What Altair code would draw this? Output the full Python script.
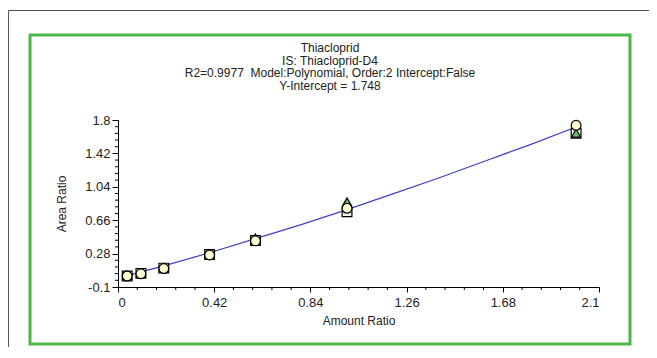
import altair as alt
import pandas as pd

# ---- data ----
amount = [0.04, 0.1, 0.2, 0.4, 0.6, 1.0, 2.0]
area_square = [0.025, 0.055, 0.115, 0.27, 0.43, 0.755, 1.65]
area_triangle = [0.03, 0.06, 0.12, 0.28, 0.46, 0.87, 1.65]
area_circle = [0.025, 0.05, 0.11, 0.265, 0.425, 0.795, 1.74]

fit_x = [0.04, 0.2, 0.4, 0.6, 0.8, 1.0, 1.2, 1.4, 1.6, 1.8, 2.02]
fit_y = [0.03, 0.14, 0.29, 0.45, 0.61, 0.78, 0.96, 1.14, 1.33, 1.52, 1.74]

x_ticks = [0, 0.42, 0.84, 1.26, 1.68, 2.1]
y_ticks = [-0.1, 0.28, 0.66, 1.04, 1.42, 1.8]
x_minor = [0.084, 0.168, 0.252, 0.336, 0.504, 0.588, 0.672, 0.756,
           0.924, 1.008, 1.092, 1.176, 1.344, 1.428, 1.512, 1.596,
           1.764, 1.848, 1.932, 2.016]
y_minor = [-0.024, 0.052, 0.128, 0.204, 0.356, 0.432, 0.508, 0.584,
           0.736, 0.812, 0.888, 0.964, 1.116, 1.192, 1.268, 1.344,
           1.496, 1.572, 1.648, 1.724]

title_lines = ["Thiacloprid", "IS: Thiacloprid-D4",
               "R2=0.9977\u00a0 Model:Polynomial, Order:2 Intercept:False",
               "Y-Intercept = 1.748"]

FONT = "Liberation Sans"
W, H = 481, 167

xs = alt.Scale(domain=[0, 2.1], nice=False, zero=False)
ys = alt.Scale(domain=[-0.1, 1.8], nice=False, zero=False)
x_axis = alt.Axis(values=x_ticks, title="Amount Ratio", grid=False,
                  labelExpr="'' + datum.value", tickSize=5, labelPadding=4,
                  titlePadding=6, zindex=1, labelOverlap=False)
y_axis = alt.Axis(values=y_ticks, title="Area Ratio", grid=False,
                  labelExpr="'' + datum.value", tickSize=6, labelPadding=2,
                  titlePadding=16, zindex=1, labelOverlap=False)

pts = pd.DataFrame({"x": amount, "sq": area_square, "tr": area_triangle, "ci": area_circle})
fit = pd.DataFrame({"x": fit_x, "y": fit_y})
one = alt.Data(values=[{}])

outer = alt.Chart(one).mark_rect(fill="transparent", stroke="#555555", strokeWidth=1).encode(
    x=alt.value(-109.5), x2=alt.value(560), y=alt.value(-109.5), y2=alt.value(260))
green = alt.Chart(one).mark_rect(fill="transparent", stroke="#4cb848", strokeWidth=3).encode(
    x=alt.value(-88), x2=alt.value(512), y=alt.value(-85), y2=alt.value(224))

titles = [
    alt.Chart(one).mark_text(text=t, font=FONT, fontSize=12, color="#222222",
                             align="center", baseline="middle").encode(
        x=alt.value(212), y=alt.value(-72 + 12.5 * i))
    for i, t in enumerate(title_lines)
]

line = alt.Chart(fit).mark_line(color="#4040c8", strokeWidth=1.2).encode(
    x=alt.X("x:Q", scale=xs, axis=x_axis),
    y=alt.Y("y:Q", scale=ys, axis=y_axis),
)

def pt(col, shape, fill, size):
    return alt.Chart(pts).mark_point(shape=shape, filled=True, fill=fill, stroke="black",
                                     strokeWidth=1.2, opacity=1, size=size).encode(
        x=alt.X("x:Q", scale=xs, axis=x_axis), y=alt.Y(f"{col}:Q", scale=ys, axis=y_axis))

squares = pt("sq", "square", "#f2f2f2", 95)
triangles = pt("tr", "triangle-up", "#6cbf6c", 80)
circles = pt("ci", "circle", "#ffffd0", 95)

xminor = alt.Chart(pd.DataFrame({"v": x_minor})).mark_rule(color="black").encode(
    x=alt.X("v:Q", scale=xs, axis=x_axis), y=alt.value(H), y2=alt.value(H + 3))
yminor = alt.Chart(pd.DataFrame({"v": y_minor})).mark_rule(color="black").encode(
    y=alt.Y("v:Q", scale=ys, axis=y_axis), x=alt.value(-3), x2=alt.value(0))

chart = alt.layer(outer, green, *titles, line, xminor, yminor, squares, triangles, circles).properties(
    width=W, height=H,
    autosize=alt.AutoSizeParams(type="none"),
    padding={"left": 110, "top": 112, "right": 50, "bottom": 60},
).configure_view(strokeWidth=0).configure_axis(
    domainColor="black", tickColor="black", labelColor="#222222", titleColor="#222222",
    labelFont=FONT, titleFont=FONT, labelFontSize=13, titleFontSize=12,
    titleFontWeight="normal", domainWidth=1, tickWidth=1, labelOverlap=False,
)

chart.save("out.html", embed_options={"renderer": "svg", "actions": False})
